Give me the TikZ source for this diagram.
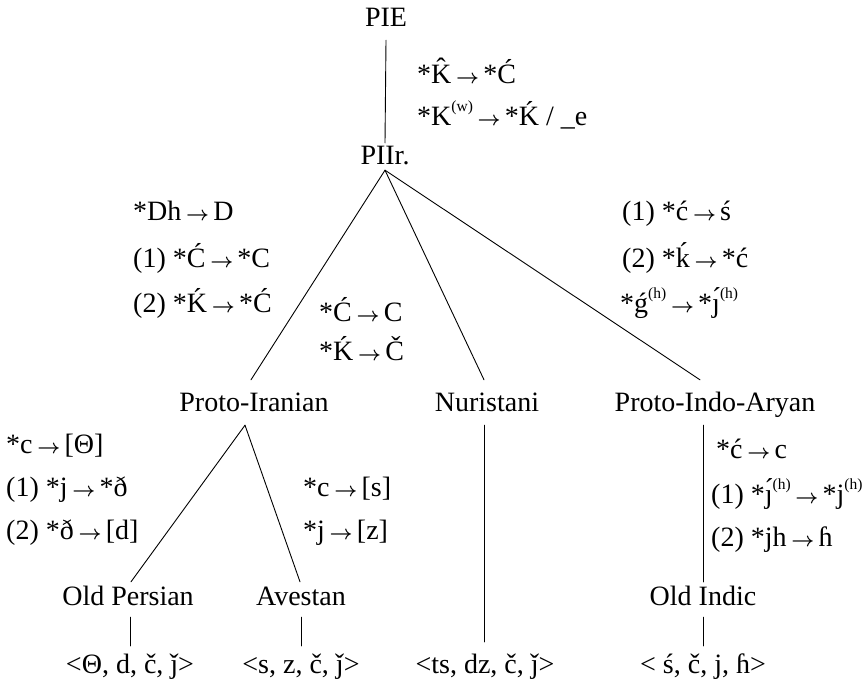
\documentclass[tikz,border=0pt]{standalone}
\usepackage{fontspec}
\usepackage{graphicx}
\setmainfont{Liberation Serif}
\usetikzlibrary{calc}
\newcommand\sto{\hspace{0.17em}\resizebox{23pt}{!}{\boldmath$\rightarrow$}\hspace{0.15em}}
\newcommand\supr[1]{\raisebox{0.5em}{\fontsize{15.5}{18}\selectfont #1}}
\begin{document}
\begin{tikzpicture}[x=1pt,y=-1pt,
  every node/.style={font=\fontsize{28}{34}\selectfont},
  tn/.style={inner sep=0pt, anchor=base, text height=19pt, text depth=6pt},
  rulelbl/.style={inner sep=0pt, anchor=base west},
  branch/.style={line width=0.9pt, line cap=round}]
\useasboundingbox (0,0) rectangle (865,680);
% tree nodes
\node[tn] (pie)  at (386,27)  {PIE};
\node[tn] (piir) at (385,164) {PIIr.};
\node[tn] (pir)  at (254,411) {Proto-Iranian};
\node[tn] (nur)  at (487,411) {Nuristani};
\node[tn] (pia)  at (715,411) {Proto-Indo-Aryan};
\node[tn] (op)   at (128,605) {Old Persian};
\node[tn] (av)   at (301,605) {Avestan};
\node[tn] (oi)   at (703,605) {Old Indic};
\node[tn] (opw)  at (130,673) {<Θ, d, č, ǰ>};
\node[tn] (avw)  at (301,673) {<s, z, č, ǰ>};
\node[tn] (nurw) at (485,673) {<ts, dz, č, ǰ>};
\node[tn] (oiw)  at (703,673) {< ś, č, j, ɦ>};
% branches
\draw[branch] ($(pie.south)+(0,7)$) -- ($(piir.north)+(0,-2)$);
\draw[branch] (piir.south) -- ($(pir.north)+(-3,-12)$);
\draw[branch] (piir.south) -- ($(nur.north)+(-3,-12)$);
\draw[branch] (piir.south) -- ($(pia.north)+(-15,-12)$);
\draw[branch] ($(pir.south)+(-9,8)$) -- ($(op.north)+(3,-4)$);
\draw[branch] ($(pir.south)+(-9,8)$) -- ($(av.north)+(-1,-4)$);
\draw[branch] ($(nur.south)+(-3,8)$) -- ($(nurw.north)+(-1,-12)$);
\draw[branch] ($(pia.south)+(-12,8)$) -- ($(oi.north)+(0,-4)$);
\draw[branch] ($(op.south)+(2,6)$) -- ($(opw.north)+(0,-8)$);
\draw[branch] ($(av.south)+(0,6)$) -- ($(avw.north)+(0,-8)$);
\draw[branch] ($(oi.south)+(0,6)$) -- ($(oiw.north)+(0,-8)$);
% sound-change labels
\node[rulelbl] (r1) at (417,83)  {*K̂\sto *Ć};
\node[rulelbl] (r2) at (417,125) {*K\supr{(w)}\sto *Ḱ / \_e};
\node[rulelbl] (l1) at (133,220) {*Dh\sto D};
\node[rulelbl] (l2) at (133,267) {(1) *Ć\sto *C};
\node[rulelbl] (l3) at (133,312) {(2) *Ḱ\sto *Ć};
\node[rulelbl] (m1) at (319,321) {*Ć\sto C};
\node[rulelbl] (m2) at (319,360) {*Ḱ\sto Č};
\node[rulelbl] (q1) at (622,220) {(1) *ć\sto ś};
\node[rulelbl] (q2) at (622,267) {(2) *ḱ\sto *ć};
\node[rulelbl] (q3) at (620,312) {*ǵ\supr{(h)}\sto *ȷ́\supr{(h)}};
\node[rulelbl] (a1) at (6,453)   {*c\sto [Θ]};
\node[rulelbl] (a2) at (6,496)   {(1) *j\sto *ð};
\node[rulelbl] (a3) at (6,539)   {(2) *ð\sto [d]};
\node[rulelbl] (b1) at (303,496) {*c\sto [s]};
\node[rulelbl] (b2) at (303,539) {*j\sto [z]};
\node[rulelbl] (c1) at (716,458) {*ć\sto c};
\node[rulelbl] (c2) at (711,503) {(1) *ȷ́\supr{(h)}\sto *j\supr{(h)}};
\node[rulelbl] (c3) at (711,546) {(2) *jh\sto ɦ};
\end{tikzpicture}
\end{document}
